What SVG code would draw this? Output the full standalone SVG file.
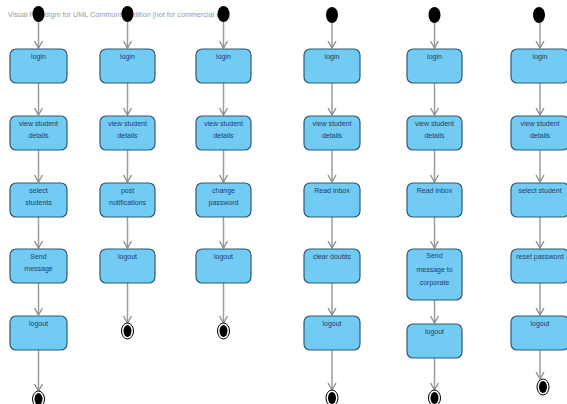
<svg xmlns="http://www.w3.org/2000/svg" width="567" height="404" viewBox="0 0 567 404">
<defs>
<style>
.box{fill:#72cbf3;stroke:#2f5a74;stroke-width:1.2}
.lbl{font-family:"Liberation Sans",Arial,sans-serif;font-size:7px;fill:#1e3c6c;text-anchor:middle}
.wm{font-family:"Liberation Sans",Arial,sans-serif;font-size:6.6px;fill:#9a9a9a}
.start{fill:#000}
.endo{fill:#fff;stroke:#000;stroke-width:1}
.endi{fill:#000}
.edge{stroke:#9c9c9c;stroke-width:1.5;fill:none}
</style>
<marker id="arr" markerUnits="userSpaceOnUse" markerWidth="12" markerHeight="12" viewBox="-10 -6 12 12" refX="0" refY="0" orient="auto">
<path d="M-7,-4 L0,0 L-7,4" fill="none" stroke="#8a8a8a" stroke-width="1.3"/>
</marker>
</defs>
<rect width="567" height="404" fill="#fff"/>
<text class="wm" x="8" y="17" textLength="222" lengthAdjust="spacingAndGlyphs">Visual Paradigm for UML Community Edition [not for commercial use]</text>

<g id="connectors">
<!-- col1 -->
<path class="edge" marker-end="url(#arr)" d="M38.5,22 V48"/>
<path class="edge" marker-end="url(#arr)" d="M38.5,83 V115"/>
<path class="edge" marker-end="url(#arr)" d="M38.5,150 V182"/>
<path class="edge" marker-end="url(#arr)" d="M38.5,217 V248"/>
<path class="edge" marker-end="url(#arr)" d="M38.5,283 V315"/>
<path class="edge" marker-end="url(#arr)" d="M38.5,350 V391"/>
<!-- col2 -->
<path class="edge" marker-end="url(#arr)" d="M127.5,22 V48"/>
<path class="edge" marker-end="url(#arr)" d="M127.5,83 V115"/>
<path class="edge" marker-end="url(#arr)" d="M127.5,150 V182"/>
<path class="edge" marker-end="url(#arr)" d="M127.5,217 V248"/>
<path class="edge" marker-end="url(#arr)" d="M127.5,283 V323"/>
<!-- col3 -->
<path class="edge" marker-end="url(#arr)" d="M223.5,22 V48"/>
<path class="edge" marker-end="url(#arr)" d="M223.5,83 V115"/>
<path class="edge" marker-end="url(#arr)" d="M223.5,150 V182"/>
<path class="edge" marker-end="url(#arr)" d="M223.5,217 V248"/>
<path class="edge" marker-end="url(#arr)" d="M223.5,283 V323"/>
<!-- col4 -->
<path class="edge" marker-end="url(#arr)" d="M332,23 V48"/>
<path class="edge" marker-end="url(#arr)" d="M332,83 V115"/>
<path class="edge" marker-end="url(#arr)" d="M332,150 V182"/>
<path class="edge" marker-end="url(#arr)" d="M332,217 V248"/>
<path class="edge" marker-end="url(#arr)" d="M332,283 V315"/>
<path class="edge" marker-end="url(#arr)" d="M332,350 V390"/>
<!-- col5 -->
<path class="edge" marker-end="url(#arr)" d="M434.5,23 V48"/>
<path class="edge" marker-end="url(#arr)" d="M434.5,83 V115"/>
<path class="edge" marker-end="url(#arr)" d="M434.5,150 V182"/>
<path class="edge" marker-end="url(#arr)" d="M434.5,217 V248"/>
<path class="edge" marker-end="url(#arr)" d="M434.5,300 V323"/>
<path class="edge" marker-end="url(#arr)" d="M434.5,358 V390"/>
<!-- col6 -->
<path class="edge" marker-end="url(#arr)" d="M540,23 V48"/>
<path class="edge" marker-end="url(#arr)" d="M540,83 V115"/>
<path class="edge" marker-end="url(#arr)" d="M540,150 V182"/>
<path class="edge" marker-end="url(#arr)" d="M540,217 V248"/>
<path class="edge" marker-end="url(#arr)" d="M540,283 V315"/>
<path class="edge" marker-end="url(#arr)" d="M540,350 V379"/>
</g>

<!-- column 1 -->
<g id="start1"><ellipse class="start" cx="38.5" cy="14" rx="6" ry="8"/></g>
<g id="c1_login"><rect class="box" x="10" y="49" width="57" height="34" rx="6"/><text class="lbl" x="38.5" y="58.5">login</text></g>
<g id="c1_view"><rect class="box" x="10" y="116" width="57" height="34" rx="6"/><text class="lbl" x="38.5" y="125.5">view student</text><text class="lbl" x="38.5" y="137.5">details</text></g>
<g id="c1_select"><rect class="box" x="10" y="183" width="57" height="34" rx="6"/><text class="lbl" x="38.5" y="192.5">select</text><text class="lbl" x="38.5" y="204.5">students</text></g>
<g id="c1_send"><rect class="box" x="10" y="249" width="57" height="34" rx="6"/><text class="lbl" x="38.5" y="258.5">Send</text><text class="lbl" x="38.5" y="270.5">message</text></g>
<g id="c1_logout"><rect class="box" x="10" y="316" width="57" height="34" rx="6"/><text class="lbl" x="38.5" y="325.5">logout</text></g>
<g id="end1"><ellipse class="endo" cx="38.5" cy="399" rx="6" ry="8"/><ellipse class="endi" cx="38.5" cy="399" rx="4" ry="6"/></g>

<!-- column 2 -->
<g id="start2"><ellipse class="start" cx="127.5" cy="14" rx="6" ry="8"/></g>
<g id="c2_login"><rect class="box" x="100" y="49" width="55" height="34" rx="6"/><text class="lbl" x="127.5" y="58.5">login</text></g>
<g id="c2_view"><rect class="box" x="100" y="116" width="55" height="34" rx="6"/><text class="lbl" x="127.5" y="125.5">view student</text><text class="lbl" x="127.5" y="137.5">details</text></g>
<g id="c2_post"><rect class="box" x="100" y="183" width="55" height="34" rx="6"/><text class="lbl" x="127.5" y="192.5">post</text><text class="lbl" x="127.5" y="204.5">notifications</text></g>
<g id="c2_logout"><rect class="box" x="100" y="249" width="55" height="34" rx="6"/><text class="lbl" x="127.5" y="258.5">logout</text></g>
<g id="end2"><ellipse class="endo" cx="127.5" cy="331" rx="6" ry="8"/><ellipse class="endi" cx="127.5" cy="331" rx="4" ry="6"/></g>

<!-- column 3 -->
<g id="start3"><ellipse class="start" cx="223.5" cy="14" rx="6" ry="8"/></g>
<g id="c3_login"><rect class="box" x="196" y="49" width="55" height="34" rx="6"/><text class="lbl" x="223.5" y="58.5">login</text></g>
<g id="c3_view"><rect class="box" x="196" y="116" width="55" height="34" rx="6"/><text class="lbl" x="223.5" y="125.5">view student</text><text class="lbl" x="223.5" y="137.5">details</text></g>
<g id="c3_change"><rect class="box" x="196" y="183" width="55" height="34" rx="6"/><text class="lbl" x="223.5" y="192.5">change</text><text class="lbl" x="223.5" y="204.5">password</text></g>
<g id="c3_logout"><rect class="box" x="196" y="249" width="55" height="34" rx="6"/><text class="lbl" x="223.5" y="258.5">logout</text></g>
<g id="end3"><ellipse class="endo" cx="223.5" cy="331" rx="6" ry="8"/><ellipse class="endi" cx="223.5" cy="331" rx="4" ry="6"/></g>

<!-- column 4 -->
<g id="start4"><ellipse class="start" cx="332" cy="15" rx="6" ry="8"/></g>
<g id="c4_login"><rect class="box" x="304" y="49" width="56" height="34" rx="6"/><text class="lbl" x="332" y="58.5">login</text></g>
<g id="c4_view"><rect class="box" x="304" y="116" width="56" height="34" rx="6"/><text class="lbl" x="332" y="125.5">view student</text><text class="lbl" x="332" y="137.5">details</text></g>
<g id="c4_read"><rect class="box" x="304" y="183" width="56" height="34" rx="6"/><text class="lbl" x="332" y="192.5">Read inbox</text></g>
<g id="c4_clear"><rect class="box" x="304" y="249" width="56" height="34" rx="6"/><text class="lbl" x="332" y="258.5">clear doubts</text></g>
<g id="c4_logout"><rect class="box" x="304" y="316" width="56" height="34" rx="6"/><text class="lbl" x="332" y="325.5">logout</text></g>
<g id="end4"><ellipse class="endo" cx="332" cy="398" rx="6" ry="8"/><ellipse class="endi" cx="332" cy="398" rx="4" ry="6"/></g>

<!-- column 5 -->
<g id="start5"><ellipse class="start" cx="434.5" cy="15" rx="6" ry="8"/></g>
<g id="c5_login"><rect class="box" x="407" y="49" width="55" height="34" rx="6"/><text class="lbl" x="434.5" y="58.5">login</text></g>
<g id="c5_view"><rect class="box" x="407" y="116" width="55" height="34" rx="6"/><text class="lbl" x="434.5" y="125.5">view student</text><text class="lbl" x="434.5" y="137.5">details</text></g>
<g id="c5_read"><rect class="box" x="407" y="183" width="55" height="34" rx="6"/><text class="lbl" x="434.5" y="192.5">Read inbox</text></g>
<g id="c5_send"><rect class="box" x="407" y="249" width="55" height="51" rx="6"/><text class="lbl" x="434.5" y="258">Send</text><text class="lbl" x="434.5" y="271.5">message to</text><text class="lbl" x="434.5" y="285">corporate</text></g>
<g id="c5_logout"><rect class="box" x="407" y="324" width="55" height="34" rx="6"/><text class="lbl" x="434.5" y="333.5">logout</text></g>
<g id="end5"><ellipse class="endo" cx="434.5" cy="398" rx="6" ry="8"/><ellipse class="endi" cx="434.5" cy="398" rx="4" ry="6"/></g>

<!-- column 6 -->
<g id="start6"><ellipse class="start" cx="539" cy="15" rx="6" ry="8"/></g>
<g id="c6_login"><rect class="box" x="511" y="49" width="58" height="34" rx="6"/><text class="lbl" x="540" y="58.5">login</text></g>
<g id="c6_view"><rect class="box" x="511" y="116" width="58" height="34" rx="6"/><text class="lbl" x="540" y="125.5">view student</text><text class="lbl" x="540" y="137.5">details</text></g>
<g id="c6_select"><rect class="box" x="511" y="183" width="58" height="34" rx="6"/><text class="lbl" x="540" y="192.5">select student</text></g>
<g id="c6_reset"><rect class="box" x="511" y="249" width="58" height="34" rx="6"/><text class="lbl" x="540" y="258.5">reset password</text></g>
<g id="c6_logout"><rect class="box" x="511" y="316" width="58" height="34" rx="6"/><text class="lbl" x="540" y="325.5">logout</text></g>
<g id="end6"><ellipse class="endo" cx="543" cy="387" rx="6" ry="8"/><ellipse class="endi" cx="543" cy="387" rx="4" ry="6"/></g>
</svg>
